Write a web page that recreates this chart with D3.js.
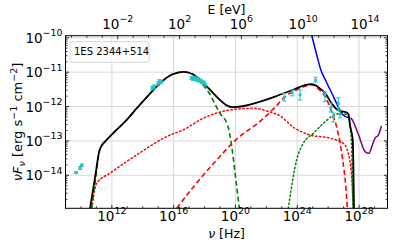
<!DOCTYPE html>
<html>
<head>
<meta charset="utf-8">
<script src="https://cdn.jsdelivr.net/npm/d3@7"></script>
<style>
  body { margin: 0; background: #fff; }
  svg { font-family: "DejaVu Sans", sans-serif; }
</style>
</head>
<body>
<div class="sed"></div>
<script>
// all values are log10: [nu (Hz), nuFnu (erg s-1 cm-2)]
const totalModel = [[10.59,-14.96],[10.9,-14.1],[11.19,-13.29],[11.4,-13.1],[11.56,-13.02],[12.3,-12.68],[12.96,-12.39],
  [13.61,-12.05],[14.4,-11.66],[15.12,-11.32],[15.89,-11.07],[16.62,-10.99],[17.25,-11.06],[17.92,-11.32],
  [18.5,-11.58],[19.0,-11.81],[19.4,-11.96],[19.86,-12.02],[20.7,-11.97],[21.59,-11.86],[22.56,-11.71],
  [23.85,-11.49],[24.5,-11.38],[24.94,-11.35],[25.4,-11.45],[25.8,-11.61],[26.23,-11.91],[26.55,-12.08],
  [26.88,-12.14],[27.16,-12.17],[27.31,-12.22],[27.41,-12.54],[27.59,-12.97],[27.67,-14.96]];

const synchrotron = [[10.7,-14.96],[10.95,-14.1],[11.2,-13.29],[11.4,-13.1],[11.56,-13.02],[12.3,-12.68],[12.96,-12.39],
  [13.61,-12.05],[14.4,-11.66],[15.12,-11.32],[15.89,-11.07],[16.62,-10.99],[17.25,-11.07],[17.8,-11.32],
  [18.24,-11.57],[19.0,-12.2],[19.5,-12.55],[19.76,-13.17],[20.08,-14.33],[20.25,-14.96]];

const sscModel = [[16.2,-14.96],[17.38,-14.28],[18.7,-13.6],[19.97,-12.99],[21.7,-12.39],[22.56,-12.02],
  [23.2,-11.72],[24.18,-11.47],[24.94,-11.37],[25.4,-11.5],[25.8,-11.71],[26.23,-12.15],[26.55,-12.6],
  [26.94,-13.55],[27.16,-14.43],[27.24,-14.96]];

const broadModel = [[10.7,-14.96],[11.02,-14.23],[11.88,-13.94],[13.8,-13.35],[15.76,-12.83],[16.62,-12.68],
  [17.92,-12.34],[19.65,-12.1],[21.16,-12.05],[22.24,-12.16],[22.88,-12.27],[23.74,-12.6],[24.83,-12.83],
  [26.12,-12.92],[26.98,-13.07],[27.3,-13.36],[27.52,-14.04],[27.63,-14.96]];

const hadronModel = [[23.42,-14.96],[23.96,-13.55],[24.39,-13.07],[25.04,-12.78],[25.69,-12.49],
  [26.23,-12.29],[26.8,-12.2],[27.3,-12.25],[27.5,-13.0],[27.6,-14.96]];

const sensitivityA = [[24.94,-9.94],[25.26,-10.5],[25.5,-10.9],[25.9,-11.3],[26.35,-11.72],
  [26.7,-12.05],[26.95,-12.24],[27.35,-12.33]];

const sensitivityB = [[27.45,-12.33],[27.52,-12.36],[27.95,-12.8],[28.39,-13.31],[28.64,-13.36],
  [28.84,-13.15],[29.03,-12.92],[29.25,-12.83],[29.45,-12.56]];

// observations: [nu, nuFnu, lower, upper]
const radioObs = [[9.68,-13.92,-13.95,-13.89],[9.94,-13.79,-13.83,-13.75],[10.05,-13.71,-13.75,-13.67]];
const opticalObs = [[14.62,-11.47,-11.52,-11.42],[14.73,-11.42,-11.47,-11.37],[14.99,-11.33,-11.38,-11.28],
  [15.08,-11.27,-11.32,-11.22],[15.18,-11.29,-11.34,-11.24]];
const xrayObs = [[17.15,-11.17,-11.21,-11.13],[17.25,-11.2,-11.24,-11.16],[17.35,-11.16,-11.2,-11.12],
  [17.45,-11.22,-11.26,-11.18],[17.55,-11.2,-11.24,-11.16],[17.65,-11.25,-11.29,-11.21],
  [17.75,-11.24,-11.28,-11.2],[17.85,-11.3,-11.34,-11.26],[17.95,-11.3,-11.34,-11.26],[18.05,-11.36,-11.4,-11.32]];
const gammaObs = [[23.16,-11.73,-11.84,-11.62],[23.68,-11.6,-11.69,-11.52],[24.18,-11.66,-11.81,-11.52],
  [25.19,-11.23,-11.29,-11.15]];
const tevObs = [[25.79,-11.64,-11.86,-11.57],[26.18,-12.03,-12.16,-11.9],[26.66,-11.91,-12.1,-11.75],
  [26.33,-12.3,-12.45,-12.19],[26.77,-12.22,-12.33,-12.1]];

const nuTicks = [12,16,20,24,28];
const fluxTicks = [-14,-13,-12,-11,-10];
const energyTicks = [-2,2,6,10,14];
const sourceName = "1ES 2344+514";

const hPlanck = 4.135667e-15; // eV s

const width = 395, height = 247;
const margin = {t:35.7, r:7.5, b:38.7, l:65.5};
const w = width - margin.l - margin.r;
const h = height - margin.t - margin.b;

const svg = d3.select(".sed").append("svg")
  .attr("width", width)
  .attr("height", height);

const x = d3.scaleLog().domain([1e9, 10**29.84]).range([0, w]);
const y = d3.scaleLog().domain([10**-14.96, 10**-9.94]).range([h, 0]);
const xE = d3.scaleLog().domain(x.domain().map(d => d*hPlanck)).range([0, w]);

const plot = svg.append("g").attr("transform", `translate(${margin.l}, ${margin.t})`);

svg.append("clipPath").attr("id","clip")
  .append("rect").attr("width", w).attr("height", h);

// grid
plot.selectAll(".vgrid").data(nuTicks).enter().append("line")
  .attr("x1", d => x(10**d)).attr("x2", d => x(10**d))
  .attr("y1", 0).attr("y2", h)
  .attr("stroke", "#d9d9d9").attr("stroke-width", 1);
plot.selectAll(".hgrid").data(fluxTicks).enter().append("line")
  .attr("x1", 0).attr("x2", w)
  .attr("y1", d => y(10**d)).attr("y2", d => y(10**d))
  .attr("stroke", "#d9d9d9").attr("stroke-width", 1);

// model curves
const line = d3.line()
  .x(d => x(10**d[0]))
  .y(d => y(10**d[1]))
  .curve(d3.curveMonotoneX);

const curves = plot.append("g").attr("clip-path", "url(#clip)");

function drawCurve(data, color, dash, lw) {
  curves.append("path")
    .datum(data)
    .attr("d", line)
    .attr("fill", "none")
    .attr("stroke", color)
    .attr("stroke-width", lw)
    .attr("stroke-dasharray", dash)
    .attr("stroke-linecap", dash === "1.4,2.6" ? "round" : "butt");
}

drawCurve(broadModel, "#ff0000", "1.4,2.6", 1.5);
drawCurve(hadronModel, "#008000", "1.4,2.6", 1.5);
drawCurve(sscModel, "#ff0000", "5,3", 1.6);
drawCurve(synchrotron, "#008000", "5,3", 1.6);
drawCurve(sensitivityA, "#0000ff", null, 1.5);
drawCurve(sensitivityB, "#800080", null, 1.5);
drawCurve(totalModel, "#000000", null, 1.8);

// observations
const obs = radioObs.concat(opticalObs, xrayObs, gammaObs, tevObs);
const obsColor = "#22c3c8";
const obsG = curves.append("g");
obsG.selectAll(".err").data(obs).enter().append("line")
  .attr("x1", d => x(10**d[0])).attr("x2", d => x(10**d[0]))
  .attr("y1", d => y(10**d[2])).attr("y2", d => y(10**d[3]))
  .attr("stroke", obsColor).attr("stroke-width", 1);
obsG.selectAll(".capLo").data(obs).enter().append("line")
  .attr("x1", d => x(10**d[0]) - 2.2).attr("x2", d => x(10**d[0]) + 2.2)
  .attr("y1", d => y(10**d[2])).attr("y2", d => y(10**d[2]))
  .attr("stroke", obsColor).attr("stroke-width", 1);
obsG.selectAll(".capHi").data(obs).enter().append("line")
  .attr("x1", d => x(10**d[0]) - 2.2).attr("x2", d => x(10**d[0]) + 2.2)
  .attr("y1", d => y(10**d[3])).attr("y2", d => y(10**d[3]))
  .attr("stroke", obsColor).attr("stroke-width", 1);
obsG.selectAll(".pt").data(obs).enter().append("circle")
  .attr("cx", d => x(10**d[0])).attr("cy", d => y(10**d[1]))
  .attr("r", 1.6).attr("fill", obsColor);

// frame
plot.append("rect").attr("width", w).attr("height", h)
  .attr("fill", "none").attr("stroke", "#000").attr("stroke-width", 1);

// ticks (all pointing inward)
const minorNu = d3.range(9, 30).filter(d => !nuTicks.includes(d));
const minorE = d3.range(-5, 16).filter(d => !energyTicks.includes(d))
  .filter(d => 10**d >= xE.domain()[0] && 10**d <= xE.domain()[1]);
const minorF = [];
d3.range(-15, -9).forEach(k => d3.range(2, 10).forEach(m => {
  const v = m * 10**k;
  if (v >= y.domain()[0] && v <= y.domain()[1]) minorF.push(Math.log10(v));
}));

function vTicks(data, scale, y0, len, cls) {
  plot.selectAll("." + cls).data(data).enter().append("line")
    .attr("x1", d => scale(10**d)).attr("x2", d => scale(10**d))
    .attr("y1", y0).attr("y2", y0 + len)
    .attr("stroke", "#000").attr("stroke-width", 0.8);
}
function hTicks(data, x0, len, cls) {
  plot.selectAll("." + cls).data(data).enter().append("line")
    .attr("x1", x0).attr("x2", x0 + len)
    .attr("y1", d => y(10**d)).attr("y2", d => y(10**d))
    .attr("stroke", "#000").attr("stroke-width", 0.8);
}
vTicks(nuTicks, x, h, -3.5, "bmaj");
vTicks(minorNu, x, h, -2, "bmin");
vTicks(energyTicks, xE, 0, 3.5, "tmaj");
vTicks(minorE, xE, 0, 2, "tmin");
hTicks(fluxTicks, 0, 3.5, "lmaj");
hTicks(minorF, 0, 2, "lmin");
hTicks(fluxTicks, w, -3.5, "rmaj");
hTicks(minorF, w, -2, "rmin");

// tick labels with superscripts
const fs = 13.5;
function powLabel(sel, e) {
  sel.text("10");
  sel.append("tspan")
    .attr("dy", -6.5)
    .attr("font-size", fs * 0.7)
    .text(e < 0 ? "\u2212" + Math.abs(e) : e);
}
plot.selectAll(".blab").data(nuTicks).enter().append("text")
  .attr("x", d => x(10**d)).attr("y", h + 12.6)
  .attr("text-anchor", "middle").attr("font-size", fs)
  .each(function(d) { powLabel(d3.select(this), d); });
plot.selectAll(".tlab").data(energyTicks).enter().append("text")
  .attr("x", d => xE(10**d)).attr("y", -7.2)
  .attr("text-anchor", "middle").attr("font-size", fs)
  .each(function(d) { powLabel(d3.select(this), d); });
plot.selectAll(".llab").data(fluxTicks).enter().append("text")
  .attr("x", -3).attr("y", d => y(10**d) + 5)
  .attr("text-anchor", "end").attr("font-size", fs)
  .each(function(d) { powLabel(d3.select(this), d); });

// axis titles
const xl = svg.append("text")
  .attr("x", margin.l + w/2).attr("y", 237.5)
  .attr("text-anchor", "middle").attr("font-size", 12.5);
xl.append("tspan").attr("font-style", "italic").text("\u03bd");
xl.append("tspan").text(" [Hz]");

svg.append("text")
  .attr("x", margin.l + w/2).attr("y", 13.5)
  .attr("text-anchor", "middle").attr("font-size", 12.5)
  .text("E [eV]");

const yl = svg.append("text")
  .attr("transform", "translate(22, 122) rotate(-90)")
  .attr("text-anchor", "middle").attr("font-size", 13);
yl.append("tspan").attr("font-style", "italic").text("\u03bdF");
yl.append("tspan").attr("font-style", "italic").attr("font-size", 9.5).attr("dy", 3).text("\u03bd");
yl.append("tspan").attr("dy", -3).text(" [erg s");
yl.append("tspan").attr("font-size", 9.5).attr("dy", -5).text("\u22121");
yl.append("tspan").attr("dy", 5).text(" cm");
yl.append("tspan").attr("font-size", 9.5).attr("dy", -5).text("\u22122");
yl.append("tspan").attr("dy", 5).text("]");

// legend box
plot.append("rect")
  .attr("x", 4.5).attr("y", 6).attr("width", 79).attr("height", 20.6)
  .attr("rx", 2.5)
  .attr("fill", "#fff").attr("fill-opacity", 0.8)
  .attr("stroke", "#cccccc").attr("stroke-width", 0.8);
plot.append("text")
  .attr("x", 8.5).attr("y", 19.8)
  .attr("font-size", 10)
  .text(sourceName);
</script>
</body>
</html>
